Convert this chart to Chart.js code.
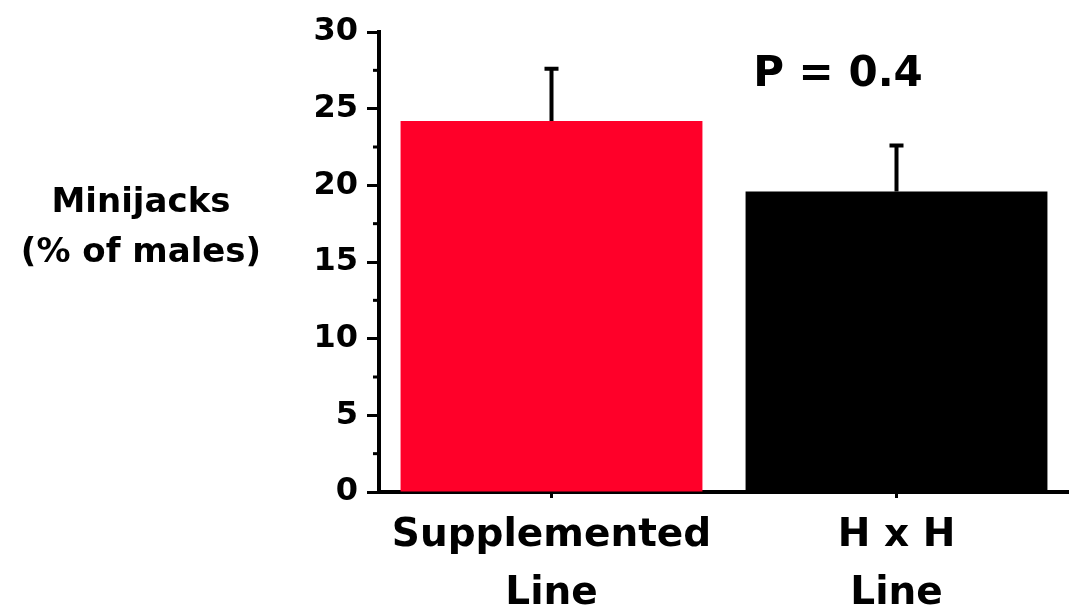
<!DOCTYPE html>
<html>
<head>
<meta charset="utf-8">
<script src="https://cdn.jsdelivr.net/npm/chart.js@4"></script>
<style>
  html, body { margin: 0; padding: 0; background: #fff; }
  #wrap { width: 1069px; height: 613px; position: relative; }
</style>
</head>
<body>
<div id="wrap"><canvas id="chart"></canvas></div>
<script>
// data
const categories = [["Supplemented", "Line"], ["H x H", "Line"]];
const means = [24.2, 19.6];
const errors = [3.4, 3.0];
const barColors = ["#ff0029", "#000000"];
const yTicks = [0, 5, 10, 15, 20, 25, 30];
const minorTicks = [2.5, 7.5, 12.5, 17.5, 22.5, 27.5];
const yTitle = ["Minijacks", "(% of males)"];
const note = "P = 0.4";

const FONT = "'DejaVu Sans', sans-serif";

// error bars, minor ticks, horizontal y title and P value
const extras = {
  id: "extras",
  afterDatasetsDraw(chart) {
    const ctx = chart.ctx;
    const y = chart.scales.y;
    const meta = chart.getDatasetMeta(0);
    ctx.save();
    ctx.strokeStyle = "#000";
    ctx.lineWidth = 4;
    meta.data.forEach((bar, i) => {
      const top = y.getPixelForValue(means[i] + errors[i]);
      ctx.beginPath();
      ctx.moveTo(bar.x, bar.y);
      ctx.lineTo(bar.x, top);
      ctx.moveTo(bar.x - 7, top);
      ctx.lineTo(bar.x + 7, top);
      ctx.stroke();
    });
    // minor ticks
    ctx.lineWidth = 3;
    minorTicks.forEach(v => {
      const py = y.getPixelForValue(v);
      ctx.beginPath();
      ctx.moveTo(y.right - 6, py);
      ctx.lineTo(y.right, py);
      ctx.stroke();
    });
    ctx.fillStyle = "#000";
    ctx.textAlign = "center";
    ctx.textBaseline = "middle";
    ctx.font = "bold 34px " + FONT;
    ctx.fillText(yTitle[0], 141, 203);
    ctx.fillText(yTitle[1], 141, 253);
    ctx.font = "bold 42px " + FONT;
    ctx.fillText(note, 838, 75);
    ctx.restore();
  }
};

new Chart(document.getElementById("chart"), {
  type: "bar",
  data: {
    labels: categories,
    datasets: [{
      data: means,
      backgroundColor: barColors,
      borderWidth: 0,
      categoryPercentage: 0.875,
      barPercentage: 1.0
    }]
  },
  options: {
    responsive: true,
    maintainAspectRatio: false,
    animation: false,
    layout: { padding: { top: 32, right: 0, left: 0, bottom: 0 } },
    plugins: {
      legend: { display: false },
      tooltip: { enabled: false }
    },
    scales: {
      x: {
        afterFit(scale) { scale.height = 121; },
        grid: {
          display: true,
          drawOnChartArea: false,
          offset: false,
          tickLength: 6,
          tickWidth: 3,
          tickColor: "#000"
        },
        border: { display: true, color: "#000", width: 4 },
        ticks: {
          color: "#000",
          padding: 9,
          maxRotation: 0,
          font: { family: FONT, size: 39, weight: "bold", lineHeight: 1.48 }
        }
      },
      y: {
        min: 0,
        max: 30,
        afterFit(scale) { scale.width = 379; },
        afterBuildTicks(scale) { scale.ticks = yTicks.map(v => ({ value: v })); },
        grid: {
          display: true,
          drawOnChartArea: false,
          tickLength: 12,
          tickWidth: 3,
          tickColor: "#000"
        },
        border: { display: true, color: "#000", width: 4 },
        ticks: {
          color: "#000",
          padding: 9,
          font: { family: FONT, size: 32, weight: "bold" }
        }
      }
    }
  },
  plugins: [extras]
});
</script>
</body>
</html>
